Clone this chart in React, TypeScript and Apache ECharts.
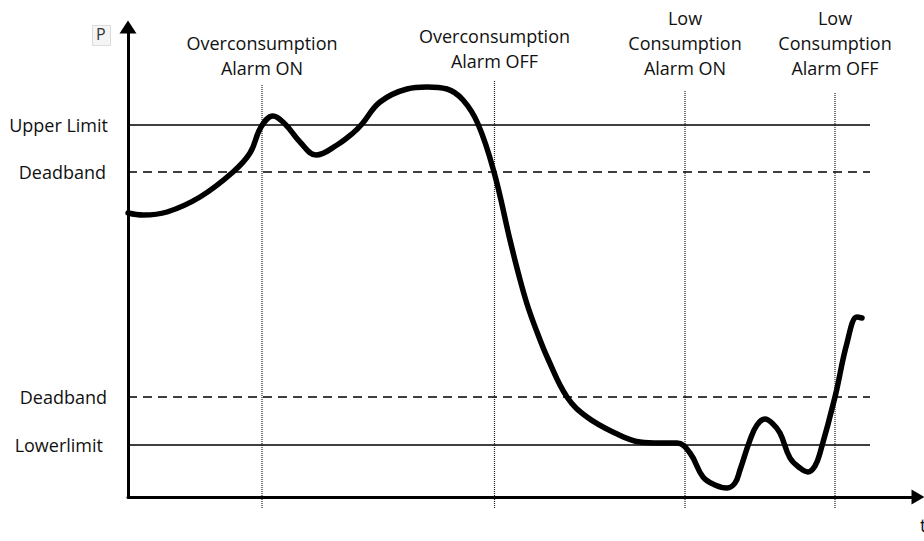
import React, { useEffect, useRef } from "react";
import * as echarts from "echarts";

// Curve P(t) (t: 0..79, P: 0..47 arbitrary units)
const curveT = [0, 1.5, 3.9, 7.2, 10.5, 12.2, 13.3, 14.5, 15.7, 17.2, 18.8, 20.9, 22.5, 23.4, 25.2, 27.9, 29.9, 31.9, 33.5, 35.0, 36.6, 38.2, 39.0, 39.9, 40.9, 42.0, 43.9, 45.9, 48.7, 51.2, 53.2, 54.9, 56.2, 57.5, 58.7, 59.9, 60.7, 61.2, 62.2, 62.9, 63.7, 64.4, 65.2, 66.2, 67.2, 68.0, 68.7, 69.2, 70.7, 71.9, 72.9, 73.4];
const curveP = [28.4, 28.2, 28.5, 30.0, 32.5, 34.4, 37.0, 38.1, 37.3, 35.5, 34.2, 35.2, 36.4, 37.3, 39.5, 40.8, 41.0, 40.8, 39.7, 37.3, 32.5, 25.7, 22.5, 19.3, 16.5, 13.8, 10.0, 8.0, 6.4, 5.5, 5.4, 5.4, 4.4, 2.0, 1.2, 0.9, 1.4, 2.7, 5.7, 7.2, 7.8, 7.4, 6.4, 3.9, 2.9, 2.5, 3.1, 4.4, 10.0, 15.4, 18.0, 17.9];

// Threshold levels
const levelNames = ["Upper Limit", "Deadband", "Deadband", "Lowerlimit"];
const levelValues = [37.2, 32.5, 10.0, 5.2];
const levelDashed = [false, true, true, false];
const levelEnd = 74.2;

// Alarm events
const eventNames = [
  "Overconsumption\nAlarm ON",
  "Overconsumption\nAlarm OFF",
  "Low\nConsumption\nAlarm ON",
  "Low\nConsumption\nAlarm OFF",
];
const eventTimes = [13.4, 36.65, 55.7, 70.7];
const eventTops = [41.2, 41.7, 40.7, 40.5];
const eventBottom = -1.1;

const axisNames = ["P", "t"];

const FONT = "Open Sans";

export default function App() {
  const ref = useRef<HTMLDivElement>(null);

  useEffect(() => {
    if (!ref.current) return;
    const chart = echarts.init(ref.current, null, { renderer: "svg" });

    const labelDist = [20, 22, 21, 25];
    const eventDist = [5, 7, 10, 12];

    const levelLines = levelValues.map((v, i) => [
      {
        coord: [0, v],
        lineStyle: {
          color: "#000",
          width: levelDashed[i] ? 1.6 : 1.5,
          type: levelDashed[i] ? [9, 6] : "solid",
        },
        label: {
          show: true,
          position: "start",
          formatter: levelNames[i],
          distance: labelDist[i],
          color: "#111",
          fontSize: 18,
          fontFamily: FONT,
        },
      },
      { coord: [levelEnd, v] },
    ]);

    // invisible carriers for the event captions (lines drawn by series below)
    const eventLabelLines = eventTimes.map((t, i) => [
      {
        coord: [t, 0],
        lineStyle: { color: "#222", width: 1, opacity: 0 },
        label: {
          show: true,
          position: "end",
          formatter: eventNames[i],
          distance: eventDist[i],
          color: "#111",
          fontSize: 18,
          lineHeight: 25,
          fontFamily: FONT,
          align: "center",
          opacity: 1,
        },
      },
      { coord: [t, eventTops[i]] },
    ]);

    const eventSeries = eventTimes.map((t, i) => ({
      type: "line",
      z: 2,
      silent: true,
      clip: false,
      showSymbol: false,
      symbol: "none",
      lineStyle: { color: "#222", width: 1.2, type: [1, 1] },
      data: [
        [t, eventBottom],
        [t, eventTops[i]],
      ],
    }));

    chart.setOption({
      animation: false,
      grid: { left: 128, right: 6, top: 27, bottom: 44, containLabel: false },
      xAxis: {
        type: "value",
        min: 0,
        max: 79,
        axisLine: {
          show: true,
          onZero: false,
          symbol: ["none", "triangle"],
          symbolSize: [15, 13],
          lineStyle: { color: "#000", width: 3 },
        },
        axisTick: { show: false },
        axisLabel: { show: false },
        splitLine: { show: false },
      },
      yAxis: {
        type: "value",
        min: 0,
        max: 47,
        axisLine: {
          show: true,
          onZero: false,
          symbol: ["none", "triangle"],
          symbolSize: [17, 13],
          lineStyle: { color: "#000", width: 3 },
        },
        axisTick: { show: false },
        axisLabel: { show: false },
        splitLine: { show: false },
      },
      series: [
        {
          type: "line",
          data: [],
          z: 1,
          silent: true,
          markLine: {
            silent: true,
            symbol: ["none", "none"],
            data: [...levelLines, ...eventLabelLines],
          },
        },
        ...eventSeries,
        {
          type: "line",
          z: 5,
          smooth: 0.4,
          showSymbol: false,
          symbol: "none",
          clip: false,
          lineStyle: { color: "#000", width: 5.5, cap: "round", join: "round" },
          data: curveT.map((t, i) => [t, curveP[i]]),
        },
      ],
      graphic: [
        {
          type: "rect",
          left: 92,
          top: 25,
          shape: { width: 18, height: 20 },
          style: { fill: "#f5f5f5", stroke: "#dcdcdc", lineWidth: 1 },
        },
        {
          type: "text",
          left: 96,
          top: 26,
          style: { text: axisNames[0], fontSize: 16, fontFamily: FONT, fill: "#333" },
        },
        {
          type: "text",
          left: 920,
          top: 516,
          style: { text: axisNames[1], fontSize: 18, fontFamily: FONT, fill: "#111" },
        },
      ],
    });

    return () => chart.dispose();
  }, []);

  return (
    <div
      ref={ref}
      style={{ position: "fixed", left: 0, top: 0, width: 924, height: 541, background: "#fff" }}
    />
  );
}
